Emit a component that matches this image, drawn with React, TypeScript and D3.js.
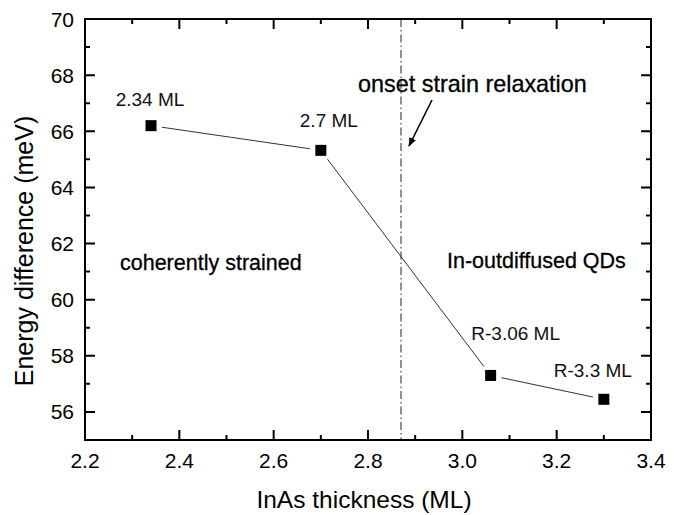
import React from "react";
import * as d3 from "d3";

const thickness = [2.34, 2.7, 3.06, 3.3];
const energy = [66.2, 65.32, 57.3, 56.45];
const pointLabels = ["2.34 ML", "2.7 ML", "R-3.06 ML", "R-3.3 ML"];
const xTicks = [2.2, 2.4, 2.6, 2.8, 3.0, 3.2, 3.4];
const yTicks = [56, 58, 60, 62, 64, 66, 68, 70];
const xMinor = [2.3, 2.5, 2.7, 2.9, 3.1, 3.3];
const yMinor = [55, 57, 59, 61, 63, 65, 67, 69];
const onsetX = 2.87;

const W = 679, H = 515;
const L = 85, R = 651, T = 19, B = 440;
const FONT = "'Liberation Sans', Arial, sans-serif";

export default function App() {
  const x = d3.scaleLinear().domain([2.2, 3.4]).range([L, R]);
  const y = d3.scaleLinear().domain([55, 70]).range([B, T]);

  const gap = 11;
  const segs = thickness.slice(0, -1).map((t, i) => {
    const x1 = x(t), y1 = y(energy[i]);
    const x2 = x(thickness[i + 1]), y2 = y(energy[i + 1]);
    const len = Math.hypot(x2 - x1, y2 - y1);
    const ux = (x2 - x1) / len, uy = (y2 - y1) / len;
    return { x1: x1 + ux * gap, y1: y1 + uy * gap, x2: x2 - ux * gap, y2: y2 - uy * gap };
  });

  const labelPos = [
    { dx: -1, dy: -20 },
    { dx: 8, dy: -23 },
    { dx: 25, dy: -35 },
    { dx: -11, dy: -22 },
  ];

  const major = 10, minor = 5;
  const p = d3.path();
  xTicks.forEach((t) => {
    p.moveTo(x(t), B); p.lineTo(x(t), B - major);
    p.moveTo(x(t), T); p.lineTo(x(t), T + major);
  });
  xMinor.forEach((t) => {
    p.moveTo(x(t), B); p.lineTo(x(t), B - minor);
    p.moveTo(x(t), T); p.lineTo(x(t), T + minor);
  });
  yTicks.forEach((t) => {
    p.moveTo(L, y(t)); p.lineTo(L + major, y(t));
    p.moveTo(R, y(t)); p.lineTo(R - major, y(t));
  });
  yMinor.forEach((t) => {
    p.moveTo(L, y(t)); p.lineTo(L + minor, y(t));
    p.moveTo(R, y(t)); p.lineTo(R - minor, y(t));
  });

  return (
    <svg width={W} height={H} style={{ position: "absolute", left: 0, top: 0, background: "#fff" }} fontFamily={FONT}>
      <defs>
        <marker id="ah" viewBox="0 0 10 10" refX="9" refY="5" markerWidth="9" markerHeight="9" orient="auto" markerUnits="userSpaceOnUse">
          <path d="M0,1 L10,5 L0,9 z" fill="#000" />
        </marker>
      </defs>
      <line x1={x(onsetX)} x2={x(onsetX)} y1={T} y2={B} stroke="#222" strokeWidth={1} strokeDasharray="8 3 1.5 3" />
      <rect x={L} y={T} width={R - L} height={B - T} fill="none" stroke="#000" strokeWidth={2} />
      <path d={p.toString()} stroke="#000" strokeWidth={2} fill="none" />
      {xTicks.map((t) => (
        <text key={"xt" + t} x={x(t)} y={468} textAnchor="middle" fontSize={21} fill="#000">{t.toFixed(1)}</text>
      ))}
      {yTicks.map((t) => (
        <text key={"yt" + t} x={74} y={y(t)} dy="0.36em" textAnchor="end" fontSize={21} fill="#000">{t}</text>
      ))}
      {segs.map((s, i) => (
        <line key={"s" + i} x1={s.x1} y1={s.y1} x2={s.x2} y2={s.y2} stroke="#333" strokeWidth={1} />
      ))}
      {thickness.map((t, i) => (
        <rect key={"p" + i} x={x(t) - 5.5} y={y(energy[i]) - 5.5} width={11} height={11} fill="#000" />
      ))}
      {thickness.map((t, i) => (
        <text key={"l" + i} x={x(t) + labelPos[i].dx} y={y(energy[i]) + labelPos[i].dy} textAnchor="middle" fontSize={19} fill="#111">
          {pointLabels[i]}
        </text>
      ))}
      <text x={358} y={92} fontSize={23.4} fill="#000" stroke="#000" strokeWidth={0.3}>onset strain relaxation</text>
      <line x1={432} y1={100} x2={409} y2={146} stroke="#000" strokeWidth={1.5} markerEnd="url(#ah)" />
      <text x={120} y={270} fontSize={21.5} fill="#000" stroke="#000" strokeWidth={0.3}>coherently strained</text>
      <text x={447} y={268} fontSize={21.5} fill="#000" stroke="#000" strokeWidth={0.3}>In-outdiffused QDs</text>
      <text x={364} y={508} textAnchor="middle" fontSize={24.5} fill="#000">InAs thickness (ML)</text>
      <text transform={`translate(33, ${(112 + 390) / 2}) rotate(-90)`} textAnchor="middle" fontSize={25} fill="#000">Energy difference (meV)</text>
    </svg>
  );
}
